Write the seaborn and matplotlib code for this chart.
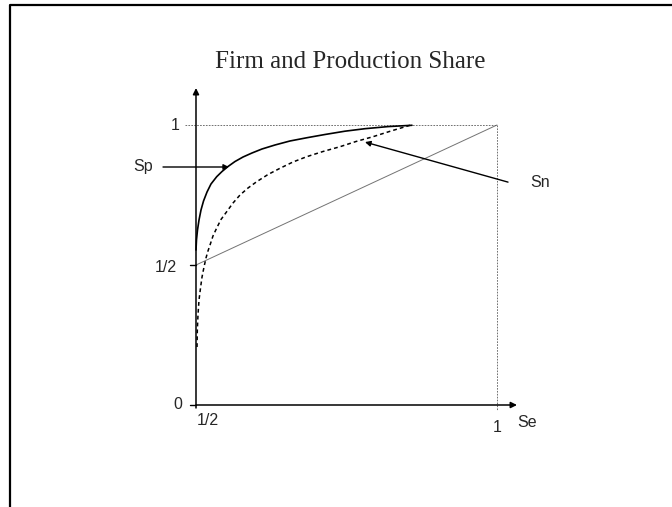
import numpy as np
import pandas as pd
import seaborn as sns
import matplotlib.pyplot as plt

# curve points (Se on x, share on y)
sp_x = [0.5, 0.5008, 0.5025, 0.505, 0.5083, 0.5125, 0.5183, 0.5249, 0.5344, 0.5432, 0.5532, 0.5648,
        0.5781, 0.593, 0.6096, 0.6312, 0.6561, 0.6844, 0.7143, 0.7475, 0.7807, 0.8189, 0.8588]
sp_y = [0.5536, 0.5893, 0.625, 0.6607, 0.6964, 0.7286, 0.7607, 0.7893, 0.8154, 0.8339, 0.8518, 0.8696,
        0.8857, 0.9, 0.9143, 0.9286, 0.9429, 0.9546, 0.9661, 0.9779, 0.9868, 0.9943, 0.999]

sn_x = [0.5017, 0.5022, 0.5033, 0.505, 0.5075, 0.51, 0.5133, 0.5166, 0.5199, 0.5233, 0.5282, 0.5344,
        0.5415, 0.551, 0.5615, 0.5731, 0.5864, 0.6008, 0.6196, 0.6395, 0.6611, 0.6839, 0.711, 0.7392,
        0.7658, 0.794, 0.8239, 0.8555]
sn_y = [0.2071, 0.2679, 0.3214, 0.375, 0.4179, 0.4571, 0.4929, 0.525, 0.55, 0.5714, 0.6036, 0.6321,
        0.6625, 0.6904, 0.7214, 0.75, 0.775, 0.7975, 0.8232, 0.8454, 0.8679, 0.8868, 0.9054, 0.9225,
        0.9411, 0.9582, 0.9786, 0.999]

diag_x = [0.5, 1.0]
diag_y = [0.5, 1.0]

y_ticks = [0.0, 0.5, 1.0]
y_tick_labels = ['0', '1/2', '1']
x_ticks = [0.5, 1.0]
x_tick_labels = ['1/2', '1']

sns.set_style('white')
plt.rcParams['font.family'] = ['Liberation Sans', 'DejaVu Sans']

fig = plt.figure(figsize=(6.72, 5.07), dpi=100)
ax = fig.add_axes([0, 0, 1, 1])
ax.set_xlim(0.17442, 1.29070)
ax.set_ylim(-0.36429, 1.44643)
ax.axis('off')

sp = pd.DataFrame({'x': sp_x, 'y': sp_y})
sn = pd.DataFrame({'x': sn_x, 'y': sn_y})

# reference lines
ax.plot(diag_x, diag_y, color='0.45', lw=0.7)
ax.plot([0.4817, 1.0], [1.0, 1.0], color='0.35', lw=0.6, linestyle=(0, (2, 1.5)))
ax.plot([1.0, 1.0], [1.0, -0.018], color='0.35', lw=0.6, linestyle=(0, (2, 1.5)))

sns.lineplot(data=sp, x='x', y='y', sort=False, color='black', lw=1.2, ax=ax)
sns.lineplot(data=sn, x='x', y='y', sort=False, color='black', lw=1.1, ax=ax)
ax.lines[-1].set_dashes((2.5, 2))

# axes with arrow heads
arr = dict(arrowstyle='-|>', color='black', lw=1.1, mutation_scale=9, shrinkA=0, shrinkB=0)
ax.annotate('', xy=(0.5, 1.132), xytext=(0.5, -0.0107), arrowprops=arr)
ax.annotate('', xy=(1.0332, 0.0), xytext=(0.5, 0.0), arrowprops=arr)

for yt in y_ticks:
    if yt < 1:
        ax.plot([0.49, 0.5], [yt, yt], color='black', lw=1.0)
ax.text(0.4651, 1.0, y_tick_labels[2], fontsize=11.5, ha='center', va='center')
ax.text(0.4502, 0.49, y_tick_labels[1], fontsize=11.5, ha='center', va='center')
ax.text(0.4701, 0.0, y_tick_labels[0], fontsize=11.5, ha='center', va='center')
ax.text(0.5199, -0.0536, x_tick_labels[0], fontsize=11.5, ha='center', va='center')
ax.text(1.0, -0.082, x_tick_labels[1], fontsize=11.5, ha='center', va='center')
ax.text(1.0498, -0.064, 'Se', fontsize=11.5, ha='center', va='center')

# curve labels
thin = dict(arrowstyle='-|>', color='black', lw=1.0, mutation_scale=8, shrinkA=0, shrinkB=0)
ax.text(0.412, 0.85, 'Sp', fontsize=11.5, ha='center', va='center')
ax.annotate('', xy=(0.5548, 0.85), xytext=(0.4452, 0.85), arrowprops=thin)
ax.text(1.0714, 0.796, 'Sn', fontsize=11.5, ha='center', va='center')
ax.annotate('', xy=(0.7807, 0.939), xytext=(1.0183, 0.796), arrowprops=thin)

ax.text(0.7558, 1.225, 'Firm and Production Share', fontsize=18,
        family=['Liberation Serif', 'DejaVu Serif'], ha='center', va='center')

# slide frame
fig.add_artist(plt.Line2D([10 / 672, 10 / 672, 1.0], [0.0, 1 - 5 / 507, 1 - 5 / 507],
                          transform=fig.transFigure, color='black', lw=1.6))

plt.savefig('out.png', dpi=100)
